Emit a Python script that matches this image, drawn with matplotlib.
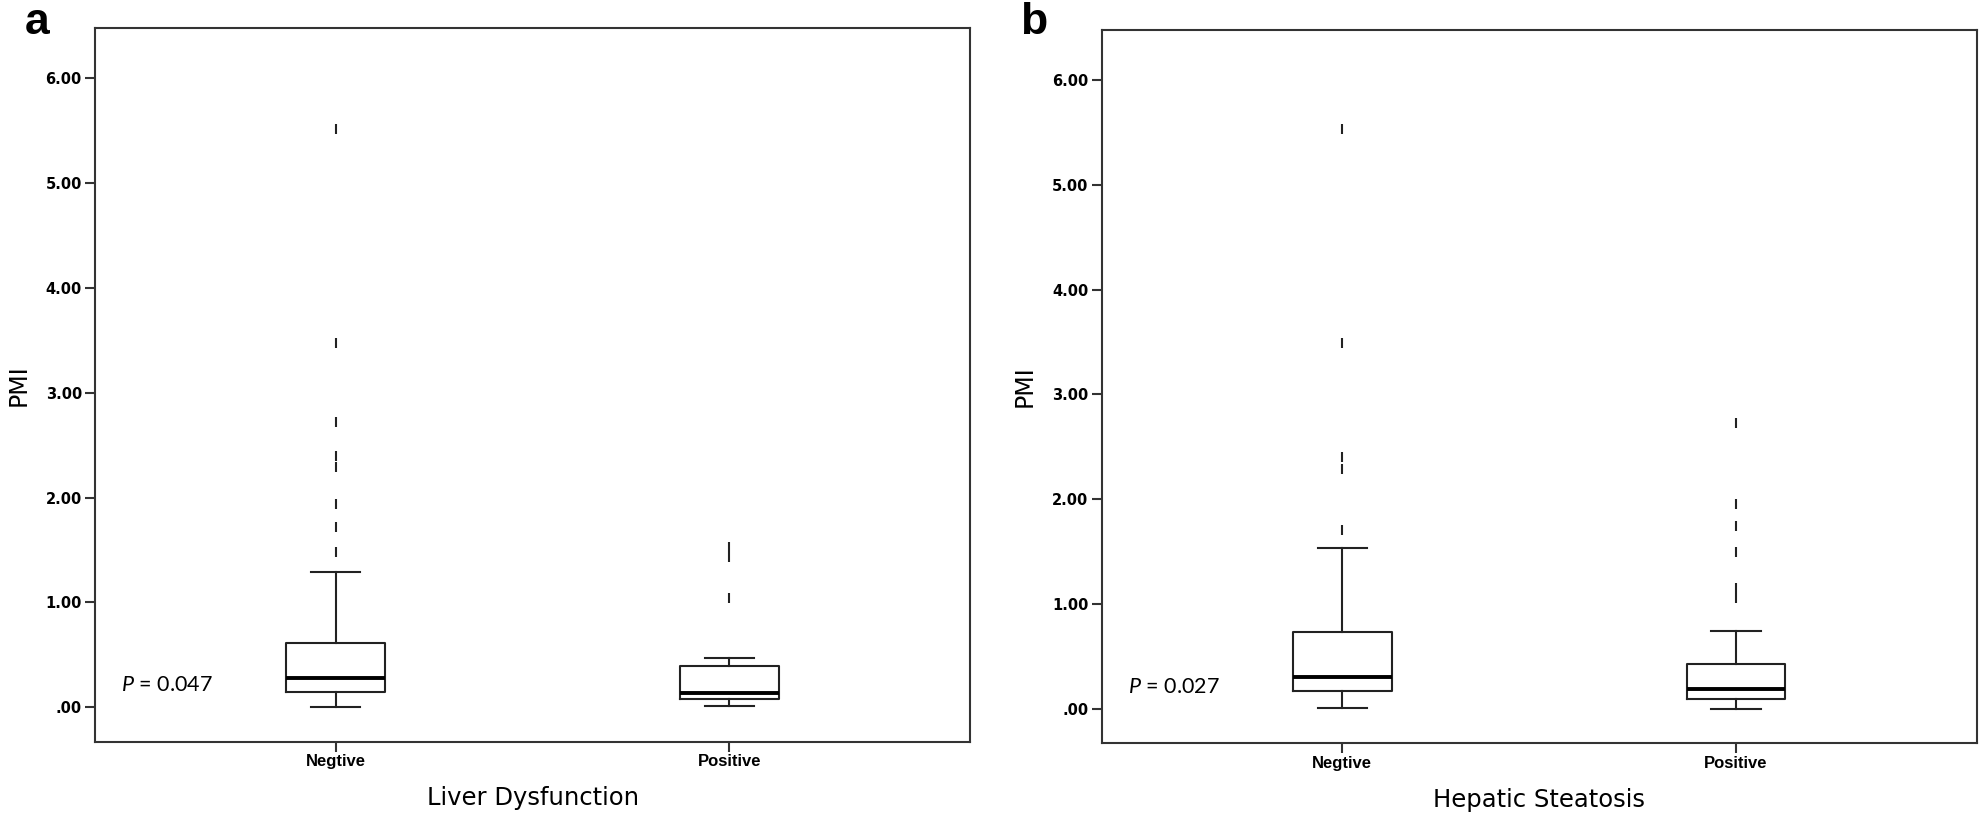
import matplotlib
matplotlib.use('Agg')
import matplotlib.pyplot as plt
from matplotlib.ticker import FuncFormatter

# PMI box plot summaries
categories = ['Negtive', 'Positive']

# panel a: liver dysfunction
liver_q1 = [0.14, 0.08]
liver_med = [0.28, 0.13]
liver_q3 = [0.61, 0.39]
liver_whislo = [0.00, 0.01]
liver_whishi = [1.29, 0.47]
liver_neg_outliers = [1.48, 1.72, 1.94, 2.29, 2.40, 2.72, 3.48, 5.52]
liver_pos_outliers = [1.04, 1.43, 1.53]

# panel b: hepatic steatosis
steat_q1 = [0.17, 0.095]
steat_med = [0.30, 0.19]
steat_q3 = [0.73, 0.43]
steat_whislo = [0.01, 0.00]
steat_whishi = [1.53, 0.74]
steat_neg_outliers = [1.71, 2.29, 2.40, 3.49, 5.53]
steat_pos_outliers = [1.06, 1.15, 1.50, 1.74, 1.95, 2.73]

yticks = [0, 1, 2, 3, 4, 5, 6]

plt.rcParams['mathtext.fontset'] = 'custom'
plt.rcParams['mathtext.it'] = 'Lato:italic'
plt.rcParams['mathtext.rm'] = 'Lato'


def make_stats(q1, med, q3, lo, hi, fliers):
    out = []
    for i in range(len(categories)):
        out.append(dict(label=categories[i], q1=q1[i], med=med[i], q3=q3[i],
                        whislo=lo[i], whishi=hi[i], fliers=fliers[i]))
    return out


def spss_fmt(v, pos):
    s = f'{v:.2f}'
    return s[1:] if s.startswith('0') else s


def draw_panel(ax, stats, xlabel, ptext):
    line = dict(color='#222222', linewidth=1.5)
    ax.bxp(stats, positions=[1, 2], widths=0.25, capwidths=0.125,
           boxprops=line, whiskerprops=line, capprops=line,
           medianprops=dict(color='black', linewidth=2.8),
           flierprops=dict(marker='|', markersize=6.5, markeredgewidth=1.5,
                           markeredgecolor='#222222'))
    ax.set_xlim(0.389, 2.611)
    ax.set_ylim(-0.33, 6.48)
    ax.set_yticks(yticks)
    ax.yaxis.set_major_formatter(FuncFormatter(spss_fmt))
    ax.set_xticks([1, 2])
    ax.set_xticklabels(categories, fontfamily='Liberation Sans',
                       fontweight='bold', fontsize=12)
    for lab in ax.get_yticklabels():
        lab.set_fontweight('bold')
        lab.set_fontsize(10.5)
    ax.tick_params(axis='both', direction='out', length=7.5, width=1.5,
                   color='#333333', pad=2)
    ax.tick_params(axis='x', pad=1.5)
    for sp in ax.spines.values():
        sp.set_linewidth(1.5)
        sp.set_color('#333333')
    ax.set_ylabel('PMI', fontsize=17)
    ax.yaxis.set_label_coords(-0.074, 0.5)
    ax.set_xlabel(xlabel, fontsize=17.5)
    ax.xaxis.set_label_coords(0.5, -0.062)
    ax.text(0.03, 0.207, r'$\mathit{P}$ = ' + ptext, fontfamily='Lato',
            fontsize=15.5, va='center', ha='left',
            transform=ax.get_yaxis_transform())


fig = plt.figure(figsize=(19.84, 8.22), dpi=100)
ax1 = fig.add_axes([0.0479, 0.0977, 0.441, 0.868])
ax2 = fig.add_axes([0.5553, 0.0957, 0.441, 0.868])

draw_panel(ax1, make_stats(liver_q1, liver_med, liver_q3, liver_whislo, liver_whishi,
                           [liver_neg_outliers, liver_pos_outliers]),
           'Liver Dysfunction', '0.047')
draw_panel(ax2, make_stats(steat_q1, steat_med, steat_q3, steat_whislo, steat_whishi,
                           [steat_neg_outliers, steat_pos_outliers]),
           'Hepatic Steatosis', '0.027')

fig.text(25 / 1984, 1 - 34 / 822, 'a', fontsize=32, fontweight='bold',
         fontfamily='Liberation Sans', va='baseline', ha='left')
fig.text(1020 / 1984, 1 - 34 / 822, 'b', fontsize=32, fontweight='bold',
         fontfamily='Liberation Sans', va='baseline', ha='left')

fig.savefig('out.png', dpi=100)
